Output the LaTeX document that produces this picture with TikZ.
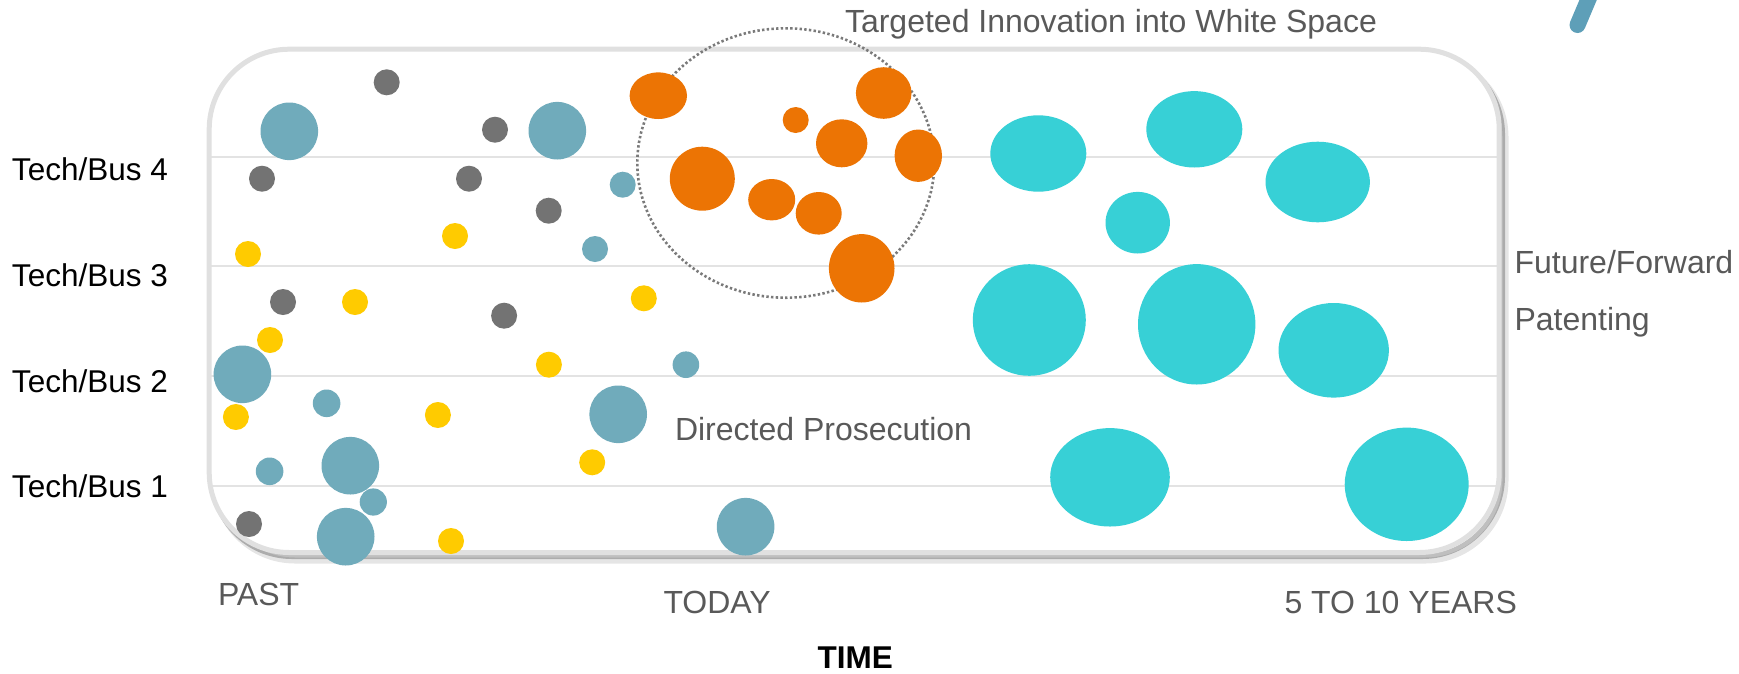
\documentclass[tikz,border=0pt]{standalone}
\usepackage{fontspec}
\setmainfont{Liberation Sans}
\definecolor{cblue}{HTML}{70ABBB}
\definecolor{cgray}{HTML}{737373}
\definecolor{cyell}{HTML}{FFCB00}
\definecolor{corng}{HTML}{EC7404}
\definecolor{ccyan}{HTML}{37D0D6}
\definecolor{txtgray}{HTML}{595959}
\definecolor{bordergray}{HTML}{E0E0E0}
\definecolor{gridgray}{HTML}{E3E3E3}
\definecolor{dotgray}{HTML}{7A7A7A}
\definecolor{penblue}{HTML}{5E9FB8}
\begin{document}
\begin{tikzpicture}[x=1pt,y=-1pt,
  lbl/.style={anchor=base west, inner sep=0pt, outer sep=0pt, text=txtgray, font=\fontsize{32}{36}\selectfont},
  rowlbl/.style={lbl, text=black, font=\fontsize{31.5}{36}\selectfont},
  timelbl/.style={lbl, text=black, font=\fontsize{31.5}{36}\selectfont\bfseries},
  boxpath/.style={rounded corners=80pt},
  gridline/.style={draw=gridgray, line width=2pt},
  whitespace/.style={draw=dotgray, line width=2.6pt, dash pattern=on 2.4pt off 2.3pt},
]
\useasboundingbox (0,0) rectangle (1739,673);

% stray pen stroke at top right
\draw[penblue, line width=16pt, line cap=round] (1577.5,25) -- (1594,-14);

% shadow of the frame
\draw[boxpath, black, opacity=0.10, line width=6pt] (215,57) rectangle (1505.5,560.5);
\draw[boxpath, black, opacity=0.25, line width=5pt] (212,54) rectangle (1502.5,556.5);
% frame
\fill[boxpath, white] (209.2,49.2) rectangle (1499.2,552.5);
\begin{scope}
  \clip[boxpath] (209.2,49.2) rectangle (1499.2,552.5);
  \foreach \gy in {156.7,266,376,486}
    \draw[gridline] (205,\gy) -- (1505,\gy);
\end{scope}
\draw[boxpath, bordergray, line width=5pt] (209.2,49.2) rectangle (1499.2,552.5);

% white space ellipse
\draw[whitespace] (785.8,163) ellipse [x radius=148.5, y radius=134.7];

% gray bubbles
\foreach \bx/\by in {386.7/82.3, 495/129.7, 262/178.7, 469/178.7, 548.7/210.7, 283/302, 504.1/315.7, 249/524}
  \fill[cgray] (\bx,\by) circle [radius=13];

% yellow bubbles
\foreach \bx/\by in {248/254, 455/236, 355/302, 643.8/298.3, 270/340, 548.9/364.7, 235.9/417, 437.9/415, 592.2/462.3, 451/541}
  \fill[cyell] (\bx,\by) circle [radius=13];

% blue bubbles
\foreach \bx/\by in {289.3/131.3, 557.3/130.7, 242.4/374.3, 618.2/414.3, 350.3/465.7, 345.7/536.7, 745.6/526.7}
  \fill[cblue] (\bx,\by) circle [radius=28.8];
\foreach \bx/\by/\br in {622.7/184.7/13, 595/249/13, 685.9/364.7/13.3, 326.6/403.3/13.8, 269.6/471.3/13.8, 373.3/502/13.6}
  \fill[cblue] (\bx,\by) circle [radius=\br];

% orange bubbles
\foreach \bx/\by/\rx/\ry in {658.3/95.7/28.7/23.3, 883.7/93/27.8/25.8, 795.7/120/13/13, 841.7/143.3/25.7/24, 918.3/155.7/23.7/26.2, 702.3/178.7/32.5/32, 771.7/199.7/23.5/20.7, 818.7/213.3/23/21.3, 861.7/268.3/32.8/34.2}
  \fill[corng] (\bx,\by) ellipse [x radius=\rx, y radius=\ry];

% cyan bubbles
\foreach \bx/\by/\rx/\ry in {1038.3/153.5/48/38.2, 1194.3/129.3/48/38.2, 1317.7/182/52.2/40.3, 1137.7/222.7/32.2/30.8, 1029.3/320/56.5/55.8, 1196.7/324.3/58.7/60.2, 1333.7/350.3/55.2/47.3, 1110/477.3/59.8/49.2, 1406.7/484.3/62/56.7}
  \fill[ccyan] (\bx,\by) ellipse [x radius=\rx, y radius=\ry];

% labels
\node[lbl] (targeted) at (845,32.3) {Targeted Innovation into White Space};
\node[lbl] (future) at (1514.5,273) {Future/Forward};
\node[lbl] (patenting) at (1514.5,330) {Patenting};
\node[lbl] (directed) at (675,440) {Directed Prosecution};
\node[lbl] (past) at (218,605) {PAST};
\node[lbl] (today) at (663.5,613.3) {TODAY};
\node[lbl] (years) at (1284.5,613.3) {5 TO 10 YEARS};
\node[timelbl] (time) at (817.5,668.5) {TIME};

\node[rowlbl] (tb4) at (12,180.7) {Tech/Bus 4};
\node[rowlbl] (tb3) at (12,286.7) {Tech/Bus 3};
\node[rowlbl] (tb2) at (12,392.3) {Tech/Bus 2};
\node[rowlbl] (tb1) at (12,497.3) {Tech/Bus 1};
\end{tikzpicture}
\end{document}
